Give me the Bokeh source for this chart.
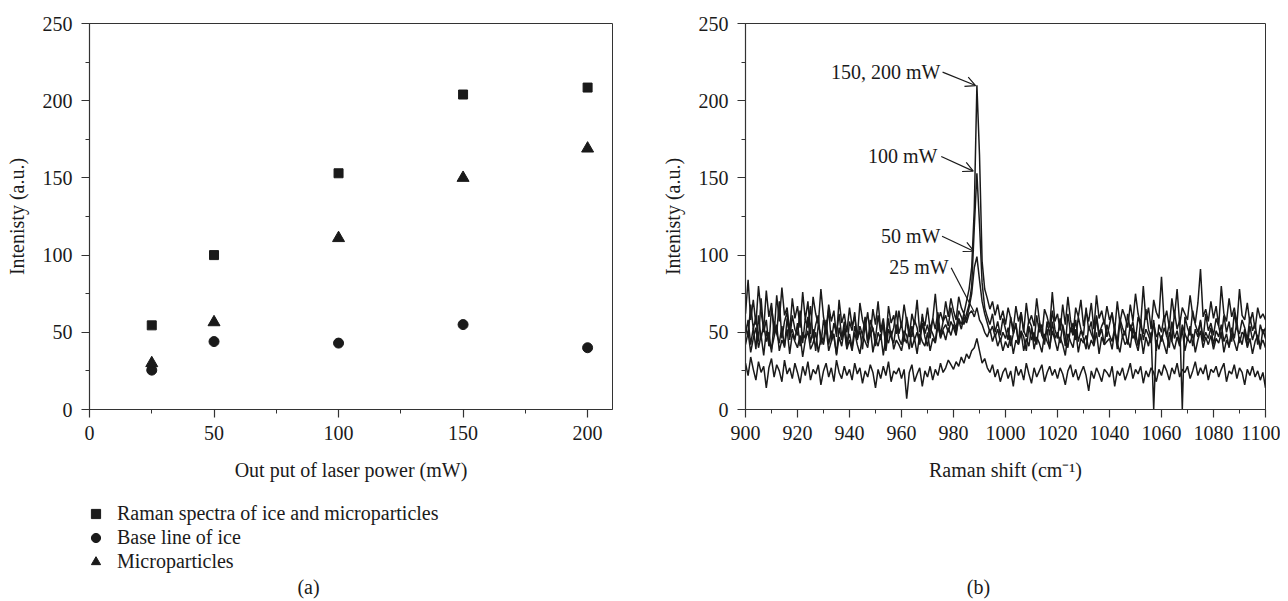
from bokeh.plotting import figure
from bokeh.layouts import row, column
from bokeh.models import (Range1d, SingleIntervalTicker, Legend, LegendItem,
                          Label, Arrow, OpenHead)
from bokeh.embed import file_html
from bokeh.resources import INLINE

# ---------------- data: panel (a) ----------------
power = [25, 50, 100, 150, 200]
raman_ice_micro = [54.5, 100, 153, 204, 208.5]
baseline_ice = [25.5, 44, 43, 55, 40]
microparticles = [30, 56.5, 111, 150, 169]
legend_labels = ["Raman spectra of ice and microparticles", "Base line of ice", "Microparticles"]

# ---------------- data: panel (b) ----------------
shift = list(range(900, 1101))

spec_150_200 = [
    62, 84, 58, 71, 55, 80, 63, 52, 77, 60, 69, 48, 74, 57, 79, 61, 66, 50, 72, 59,
    67, 53, 76, 58, 70, 49, 73, 62, 55, 78, 60, 51, 68, 57, 64, 47, 71, 56, 62, 50,
    66, 54, 60, 46, 69, 58, 52, 63, 48, 65, 55, 70, 51, 59, 45, 67, 56, 61, 49, 64,
    53, 68, 57, 47, 62, 55, 71, 50, 60, 54, 66, 52, 58, 75, 56, 63, 57, 70, 60, 72,
    64, 58, 73, 66, 62, 70, 78, 92, 130, 210, 165, 96, 78, 72, 65, 70, 61, 68, 58, 64,
    55, 66, 59, 52, 67, 57, 63, 50, 69, 56, 61, 54, 72, 58, 48, 65, 60, 53, 76, 57,
    62, 51, 68, 55, 73, 58, 49, 66, 60, 71, 54, 63, 57, 69, 52, 74, 59, 64, 55, 67,
    58, 62, 51, 70, 56, 65, 60, 53, 68, 57, 75, 62, 55, 80, 58, 66, 52, 71, 63, 59,
    86, 57, 64, 53, 72, 60, 78, 55, 66, 62, 58, 74, 61, 56, 69, 91, 60, 65, 57, 70,
    59, 67, 54, 80, 62, 57, 72, 60, 66, 55, 78, 61, 58, 69, 56, 63, 52, 66, 59, 62,
    58]

spec_100 = [
    55, 47, 68, 52, 60, 44, 72, 50, 58, 41, 66, 54, 49, 70, 46, 57, 63, 45, 61, 52,
    48, 64, 43, 59, 53, 67, 46, 55, 61, 42, 58, 50, 65, 44, 56, 49, 62, 47, 53, 40,
    57, 51, 63, 45, 54, 48, 60, 43, 58, 52, 46, 61, 50, 55, 41, 59, 47, 53, 64, 49,
    56, 44, 60, 51, 47, 58, 53, 42, 62, 49, 55, 46, 59, 52, 63, 48, 57, 61, 54, 66,
    58, 52, 64, 60, 55, 62, 68, 80, 118, 153, 120, 82, 66, 60, 55, 62, 50, 57, 48, 59,
    52, 45, 60, 49, 56, 43, 63, 51, 47, 58, 54, 44, 61, 50, 55, 42, 57, 48, 64, 52,
    46, 59, 53, 41, 62, 50, 56, 45, 60, 52, 48, 66, 51, 57, 43, 61, 49, 54, 58, 47,
    55, 63, 50, 44, 59, 53, 48, 62, 51, 57, 45, 60, 54, 49, 65, 52, 46, 58, 38, 55,
    50, 61, 47, 56, 44, 63, 52, 58, 0, 60, 53, 48, 64, 55, 50, 57, 45, 62, 51, 56,
    48, 59, 54, 46, 61, 50, 57, 44, 63, 52, 49, 58, 53, 45, 60, 51, 56, 42, 55, 49,
    53]

spec_50 = [
    48, 58, 42, 53, 39, 61, 46, 55, 44, 50, 37, 57, 49, 43, 54, 40, 59, 47, 52, 45,
    56, 41, 50, 46, 60, 43, 52, 38, 55, 48, 44, 58, 42, 51, 47, 36, 53, 45, 57, 43,
    49, 40, 54, 46, 51, 39, 56, 44, 48, 53, 41, 50, 45, 57, 38, 52, 47, 43, 55, 46,
    42, 51, 48, 39, 54, 45, 50, 43, 56, 47, 41, 53, 49, 44, 58, 46, 52, 55, 50, 57,
    53, 48, 59, 55, 62, 58, 66, 75, 92, 99, 84, 70, 62, 56, 50, 54, 47, 52, 44, 50,
    46, 53, 41, 49, 55, 43, 51, 47, 38, 54, 45, 50, 42, 56, 48, 44, 52, 39, 57, 46,
    50, 43, 55, 47, 40, 53, 48, 58, 44, 51, 46, 39, 54, 49, 45, 60, 47, 52, 42, 55,
    48, 44, 53, 39, 57, 47, 51, 42, 55, 46, 50, 41, 58, 45, 52, 48, 43, 56, 47, 50,
    44, 53, 48, 40, 57, 46, 51, 43, 55, 49, 45, 54, 41, 52, 47, 58, 44, 50, 46, 53,
    42, 51, 47, 55, 44, 49, 40, 53, 46, 57, 43, 50, 48, 41, 54, 45, 51, 47, 39, 52,
    46]

spec_25 = [
    42, 50, 37, 46, 53, 40, 48, 35, 51, 43, 39, 47, 55, 38, 45, 41, 52, 36, 49, 44,
    40, 48, 34, 45, 51, 39, 43, 50, 37, 46, 42, 53, 38, 44, 49, 35, 47, 41, 52, 39,
    45, 38, 50, 42, 36, 48, 44, 40, 53, 37, 46, 41, 49, 35, 47, 43, 51, 39, 45, 42,
    38, 47, 43, 52, 40, 46, 36, 49, 44, 41, 50, 38, 46, 43, 54, 47, 51, 45, 53, 48,
    55, 50, 58, 52, 60, 56, 62, 64, 60, 66, 58, 55, 50, 47, 52, 44, 49, 41, 46, 38,
    44, 40, 48, 36, 45, 42, 50, 38, 46, 41, 53, 39, 47, 43, 37, 49, 44, 40, 51, 45,
    38, 47, 42, 35, 49, 44, 40, 52, 37, 46, 43, 48, 39, 45, 41, 50, 36, 47, 42, 44,
    46, 39, 51, 43, 37, 48, 42, 45, 40, 53, 44, 38, 49, 36, 47, 41, 50, 0, 45, 39,
    48, 42, 36, 50, 44, 39, 47, 41, 52, 38, 46, 43, 49, 37, 45, 51, 40, 47, 42, 48,
    39, 46, 43, 50, 37, 45, 41, 49, 44, 38, 47, 42, 52, 40, 46, 36, 44, 48, 41, 45,
    40]

spec_base = [
    30, 22, 34, 26, 19, 31, 24, 28, 14, 27, 33, 21, 29, 25, 18, 32, 23, 27, 20, 30,
    24, 17, 28, 22, 31, 19, 26, 23, 29, 16, 25, 30, 21, 27, 18, 32, 24, 20, 28, 22,
    26, 19, 30, 23, 27, 17, 25, 21, 29, 24, 14, 26, 20, 28, 22, 31, 18, 25, 23, 27,
    20, 26, 7, 24, 29, 18, 23, 27, 15, 25, 21, 28, 19, 26, 22, 30, 24, 27, 32, 29,
    26, 31, 28, 34, 30, 36, 33, 38, 40, 46, 38, 30, 33, 27, 24, 29, 21, 26, 18, 24,
    27, 20, 25, 15, 28, 22, 26, 19, 30, 23, 17, 27, 21, 25, 29, 18, 24, 28, 22, 26,
    20, 27, 23, 16, 25, 29, 21, 26, 19, 24, 28, 22, 12, 25, 20, 27, 23, 18, 26, 24,
    21, 28, 15, 25, 22, 27, 19, 24, 30, 20, 26, 23, 28, 17, 25, 21, 27, 24, 18, 26,
    22, 29, 25, 19, 27, 23, 30, 21, 26, 24, 28, 20, 25, 31, 22, 27, 23, 29, 19, 26,
    24, 28, 21, 26, 30, 18, 25, 23, 29, 20, 27, 24, 16, 26, 22, 28, 21, 25, 19, 24,
    14]

peak_labels = ["150, 200 mW", "100 mW", "50 mW", "25 mW"]

# ---------------- styling ----------------
FONT = "Liberation Serif"
TXT = "#1a1a1a"
AX = "#333333"
FS = "20px"
TOP_H = 489
BOT_H = 110


def style(p, xlabel, ylabel):
    p.xgrid.visible = False
    p.ygrid.visible = False
    p.outline_line_color = AX
    p.outline_line_width = 1
    for ax in (p.xaxis[0], p.yaxis[0]):
        ax.axis_line_color = AX
        ax.axis_line_width = 1.2
        ax.major_tick_line_color = AX
        ax.minor_tick_line_color = AX
        ax.major_tick_line_width = 1.2
        ax.minor_tick_line_width = 1.0
        ax.major_tick_in = 0
        ax.major_tick_out = 8
        ax.minor_tick_in = 0
        ax.minor_tick_out = 4
        ax.major_label_text_font = FONT
        ax.major_label_text_font_size = FS
        ax.major_label_text_color = TXT
        ax.axis_label_text_font = FONT
        ax.axis_label_text_font_size = FS
        ax.axis_label_text_font_style = "normal"
        ax.axis_label_text_color = TXT
    p.xaxis[0].major_label_standoff = 8
    p.xaxis[0].axis_label_standoff = 16
    p.yaxis[0].major_label_standoff = 9
    p.yaxis[0].axis_label_standoff = 12
    p.xaxis[0].axis_label = xlabel
    p.yaxis[0].axis_label = ylabel


def blank(width, x0=0):
    b = figure(width=width, height=BOT_H, x_range=Range1d(x0, x0 + width),
               y_range=Range1d(0, BOT_H), min_border=0, x_axis_type=None, y_axis_type=None,
               output_backend="svg", toolbar_location=None)
    b.outline_line_color = None
    b.xgrid.visible = False
    b.ygrid.visible = False
    return b


# ---------------- panel (a) ----------------
pa = figure(frame_width=523, frame_height=386, width=640, height=TOP_H,
            min_border_left=89, min_border_right=28, min_border_top=23,
            min_border_bottom=80, x_range=Range1d(0, 210), y_range=Range1d(0, 250),
            output_backend="svg", toolbar_location=None)
style(pa, "Out put of laser power (mW)", "Intenisty (a.u.)")
pa.xaxis[0].ticker = SingleIntervalTicker(interval=50, num_minor_ticks=2)
pa.yaxis[0].ticker = SingleIntervalTicker(interval=50, num_minor_ticks=2)

pa.scatter(power, raman_ice_micro, marker="square", size=9, fill_color=TXT, line_color=TXT)
pa.scatter(power, baseline_ice, marker="circle", size=10, fill_color=TXT, line_color=TXT)
pa.scatter(power, microparticles, marker="triangle", size=12, fill_color=TXT, line_color=TXT)

# legend strip below panel (a): its x range lies far right of the data, so the
# key renderers (same series) stay out of view and only their legend glyphs show
X0 = 1000
ba = blank(640, X0)
lg_sq = ba.scatter(power, raman_ice_micro, marker="square", size=9, fill_color=TXT, line_color=TXT)
lg_ci = ba.scatter(power, baseline_ice, marker="circle", size=9, fill_color=TXT, line_color=TXT)
lg_tr = ba.scatter(power, microparticles, marker="triangle", size=10, fill_color=TXT, line_color=TXT)
legend = Legend(items=[LegendItem(label=t, renderers=[r])
                       for t, r in zip(legend_labels, [lg_sq, lg_ci, lg_tr])],
                location=(84, 26), orientation="vertical", border_line_color=None,
                background_fill_alpha=0, padding=0, margin=0, spacing=1,
                glyph_width=23, glyph_height=23, label_height=20, label_standoff=10,
                label_text_font=FONT, label_text_font_size=FS, label_text_color=TXT)
ba.add_layout(legend)
ba.add_layout(Label(x=X0 + 308, y=13, text="(a)", text_font=FONT, text_font_size=FS,
                    text_color=TXT, text_align="center", text_baseline="middle"))

# ---------------- panel (b) ----------------
pb = figure(frame_width=520, frame_height=386, width=640, height=TOP_H,
            min_border_left=105, min_border_right=15, min_border_top=23,
            min_border_bottom=80, x_range=Range1d(900, 1100), y_range=Range1d(0, 250),
            output_backend="svg", toolbar_location=None)
style(pb, "Raman shift (cm\u207b\u00b9)", "Intenisty (a.u.)")
pb.xaxis[0].ticker = SingleIntervalTicker(interval=20, num_minor_ticks=2)
pb.yaxis[0].ticker = SingleIntervalTicker(interval=50, num_minor_ticks=2)

for spec in (spec_base, spec_25, spec_50, spec_100, spec_150_200):
    n = min(len(shift), len(spec))
    pb.line(shift[:n], spec[:n], line_color=TXT, line_width=1.5)

label_x = [975.0, 973.8, 975.0, 978.1]
label_y = [218.5, 163.9, 112.2, 92.6]
for t, lx, ly in zip(peak_labels, label_x, label_y):
    pb.add_layout(Label(x=lx, y=ly, text=t, text_font=FONT, text_font_size=FS,
                        text_color=TXT, text_align="right", text_baseline="middle"))

arrow_start = [(975.8, 218.5), (975.3, 163.9), (975.6, 112.2)]
arrow_end = [(988.5, 209.8), (987.6, 154.4), (987.8, 102.5)]
for (x0, y0), (x1, y1) in zip(arrow_start, arrow_end):
    pb.add_layout(Arrow(end=OpenHead(size=10, line_width=1.2, line_color=TXT),
                        x_start=x0, y_start=y0, x_end=x1, y_end=y1,
                        line_color=TXT, line_width=1.2))
pb.add_layout(Arrow(end=None, x_start=979.1, y_start=91.8, x_end=988.0, y_end=63.0,
                    line_color=TXT, line_width=1.2))

bb = blank(640)
bb.add_layout(Label(x=338, y=13, text="(b)", text_font=FONT, text_font_size=FS,
                    text_color=TXT, text_align="center", text_baseline="middle"))

layout = column(row(pa, pb), row(ba, bb))
open("out.html", "w").write(file_html(layout, INLINE))
